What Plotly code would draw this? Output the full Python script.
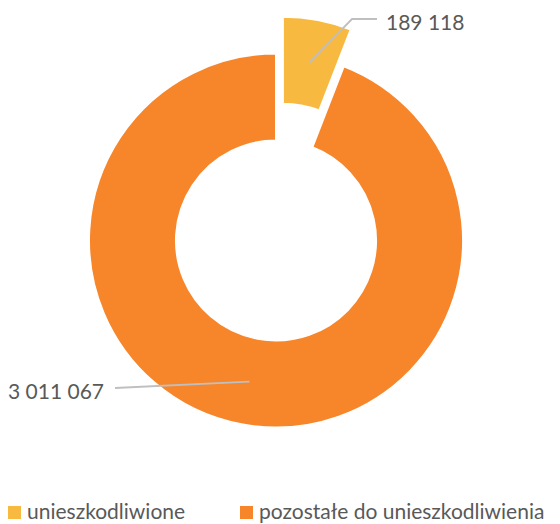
import math
import plotly.graph_objects as go

labels = ["unieszkodliwione", "pozostałe do unieszkodliwienia"]
values = [189118, 3011067]
colors = ["#F8B941", "#F7852A"]
pulls = [0.2, 0]

# page is rendered with an 8px body margin -> work in page px and shift
OFF = 8
FW, FH = 552, 516
cx, cy = 276, 240.5        # pie centre (page px)
R = 187                    # outer radius px
HOLE = 0.535
half = R * (1 + max(pulls))


def px(x, y):
    return (x - OFF) / FW, 1 - (y - OFF) / FH


x0, y0 = px(cx - half, cy + half)
x1, y1 = px(cx + half, cy - half)

fig = go.Figure(go.Pie(
    labels=labels, values=values, hole=HOLE, sort=False,
    direction="clockwise", rotation=0, pull=pulls,
    marker=dict(colors=colors, line=dict(color="white", width=2)),
    textinfo="none", hoverinfo="label+value",
    domain=dict(x=[x0, x1], y=[y0, y1]),
    showlegend=False,
))


def fmt(v):
    return f"{v:,}".replace(",", " ")


# anchor points at mid-ring of each slice's mid angle
total = sum(values)
cum = 0
anchors = []
for v, p in zip(values, pulls):
    mid = (cum + v / 2) / total * 2 * math.pi
    cum += v
    rr = R * (1 + HOLE) / 2 + p * R
    anchors.append((cx + rr * math.sin(mid), cy - rr * math.cos(mid)))


def path_of(pts):
    return "M " + " L ".join(f"{px(*p)[0]},{px(*p)[1]}" for p in pts)


gray = "#BFBFBF"
txt = "#595959"
FONT = "Lato, Noto Sans, sans-serif"
shapes, annotations = [], []

# data label 1 (small pulled slice): elbow leader line
shapes.append(dict(type="path", path=path_of([anchors[0], (352, 19), (377, 19)]),
                   xref="paper", yref="paper", line=dict(color=gray, width=1.8)))
ax, ay = px(384, 21)
annotations.append(dict(x=ax, y=ay, xref="paper", yref="paper", text=fmt(values[0]),
                        showarrow=False, xanchor="left", yanchor="middle",
                        font=dict(size=21, color=txt, family=FONT)))
# data label 2 (large slice)
shapes.append(dict(type="path", path=path_of([anchors[1], (115, 388)]),
                   xref="paper", yref="paper", line=dict(color=gray, width=1.8)))
ax, ay = px(106, 390)
annotations.append(dict(x=ax, y=ay, xref="paper", yref="paper", text=fmt(values[1]),
                        showarrow=False, xanchor="right", yanchor="middle",
                        font=dict(size=21, color=txt, family=FONT)))

# legend (squares + labels)
legend_x = [8, 240]
for lab, col, lx in zip(labels, colors, legend_x):
    sx0, sy0 = px(lx, 519)
    sx1, sy1 = px(lx + 13, 506)
    shapes.append(dict(type="rect", xref="paper", yref="paper", x0=sx0, y0=sy0,
                       x1=sx1, y1=sy1, fillcolor=col, line=dict(width=0)))
    tx, ty = px(lx + 17, 510)
    annotations.append(dict(x=tx, y=ty, xref="paper", yref="paper", text=lab,
                            showarrow=False, xanchor="left", yanchor="middle",
                            font=dict(size=21, color=txt, family=FONT)))

fig.update_layout(
    width=FW, height=FH, margin=dict(l=0, r=0, t=0, b=0),
    paper_bgcolor="white", plot_bgcolor="white",
    font=dict(family=FONT, color=txt),
    shapes=shapes, annotations=annotations,
    showlegend=False,
)

fig.write_html("out.html")
